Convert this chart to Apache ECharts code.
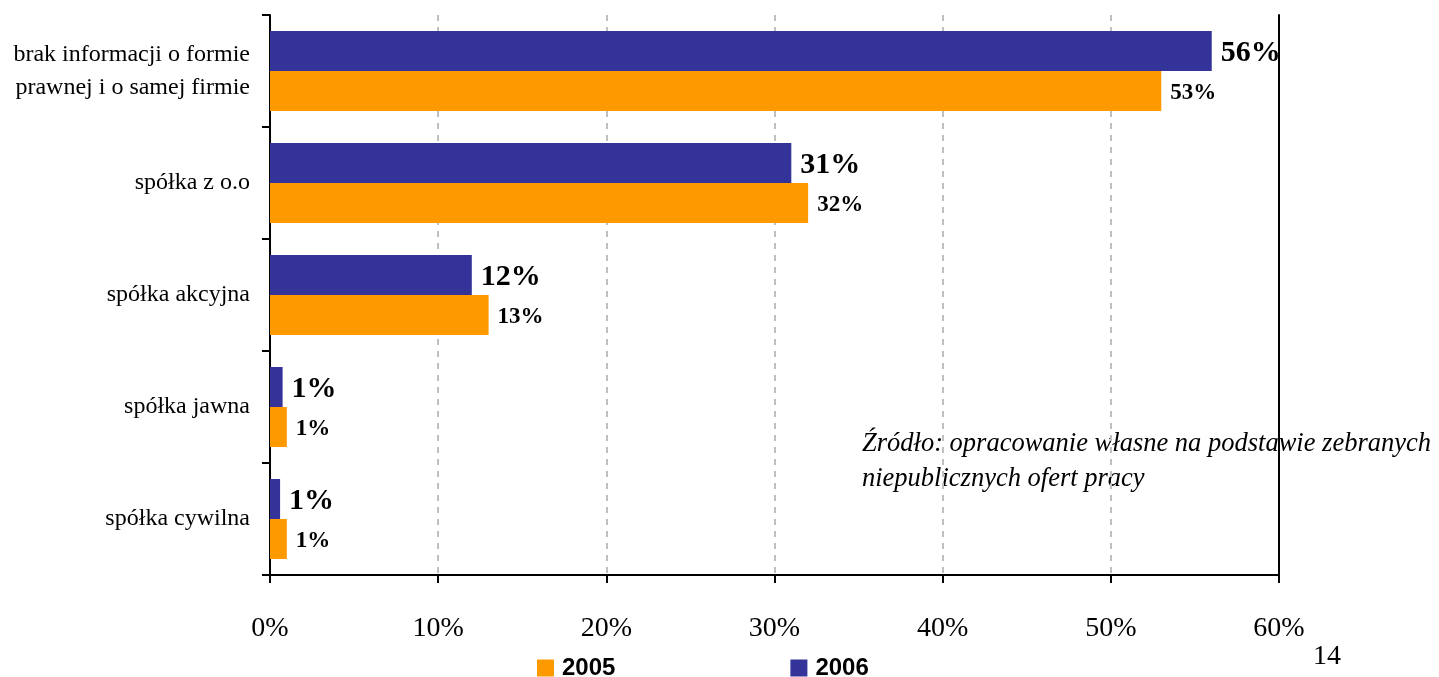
<!DOCTYPE html>
<html>
<head>
<meta charset="utf-8">
<script src="https://cdn.jsdelivr.net/npm/echarts@6/dist/echarts.min.js"></script>
<style>html,body{margin:0;padding:0;background:#fff;}#c{width:1439px;height:677px;}</style>
</head>
<body>
<div id="c"></div>
<script>
const categories = ['brak informacji o formie\nprawnej i o samej firmie', 'spółka z o.o', 'spółka akcyjna', 'spółka jawna', 'spółka cywilna'];
const values2005 = [53, 32, 13, 1, 1];
const values2006 = [56, 31, 12, 0.75, 0.6];
const seriesNames = ['2005', '2006'];
const sourceNote = 'Źródło: opracowanie własne na podstawie zebranych\nniepublicznych ofert pracy';
const pageNumber = '14';

const serif = '"Liberation Serif", "Times New Roman", serif';
const chart = echarts.init(document.getElementById('c'));
chart.setOption({
  animation: false,
  grid: { left: 270, right: 160, top: 15, bottom: 102, containLabel: false },
  legend: {
    data: seriesNames,
    left: 537, top: 656, padding: 0,
    itemWidth: 17, itemHeight: 17, itemGap: 175,
    icon: 'rect',
    textStyle: { fontFamily: '"Liberation Sans", Arial, sans-serif', fontWeight: 'bold', fontSize: 24, color: '#000', padding: [0,0,0,3] }
  },
  xAxis: {
    type: 'value', min: 0, max: 60, interval: 10,
    axisLine: { show: true, lineStyle: { color: '#000', width: 2 } },
    axisTick: { show: true, length: 8, lineStyle: { color: '#000', width: 2 } },
    axisLabel: { formatter: '{value}%', fontFamily: serif, fontSize: 28, color: '#000', margin: 40 },
    splitLine: { show: true, lineStyle: { color: '#c0c0c0', width: 2, type: [6, 6] } }
  },
  yAxis: [{
    type: 'category', data: categories, inverse: true,
    axisLine: { show: true, lineStyle: { color: '#000', width: 2 } },
    axisTick: { show: true, length: 8, lineStyle: { color: '#000', width: 2 } },
    axisLabel: { fontFamily: serif, fontSize: 24, color: '#000', margin: 20, lineHeight: 33, align: 'right' }
  }, {
    type: 'category', data: categories, inverse: true, position: 'right',
    axisLine: { show: true, lineStyle: { color: '#000', width: 2 } },
    axisTick: { show: false }, axisLabel: { show: false }
  }],
  series: [{
    name: '2006', type: 'bar', data: values2006, barWidth: 40, barGap: '0%',
    itemStyle: { color: '#333399' },
    label: { show: true, position: 'right', distance: 9, fontFamily: serif, fontWeight: 'bold', fontSize: 30, color: '#000',
      offset: [0, 2], formatter: p => Math.round(p.value) + '%' }
  }, {
    name: '2005', type: 'bar', data: values2005, barWidth: 40, barGap: '0%',
    itemStyle: { color: '#FF9900' },
    label: { show: true, position: 'right', distance: 9, fontFamily: serif, fontWeight: 'bold', fontSize: 23, color: '#000',
      offset: [0, 2], formatter: p => Math.round(p.value) + '%' }
  }],
  graphic: [{
    type: 'text', left: 862, top: 427,
    style: { text: sourceNote, font: 'italic 26.5px ' + serif, fill: '#000', lineHeight: 35 }
  }, {
    type: 'text', left: 1313, top: 643,
    style: { text: pageNumber, font: '28px ' + serif, fill: '#000' }
  }]
});
</script>
</body>
</html>
